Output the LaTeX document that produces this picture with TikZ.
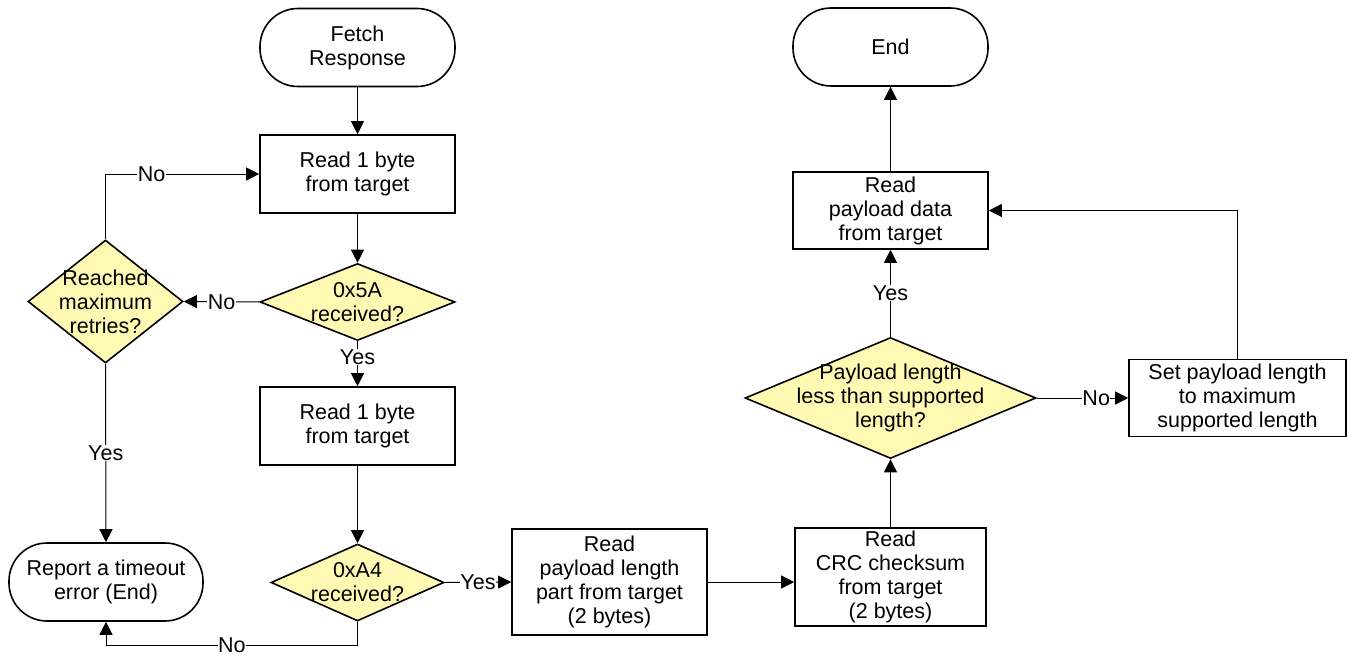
\documentclass[tikz,border=0pt]{standalone}
\usepackage{fontspec}
\setmainfont{Liberation Sans}
\usetikzlibrary{shapes.geometric,arrows.meta}
\definecolor{decfill}{RGB}{255,249,180}
\begin{document}
\begin{tikzpicture}[x=1pt,y=-1pt,
 every node/.style={font=\fontsize{21.5}{24}\selectfont, align=center},
 term/.style={draw, line width=1.6pt, rounded corners=38pt, minimum width=195pt, minimum height=78pt, inner sep=0pt},
 proc/.style={draw, line width=1.6pt, minimum width=195pt, minimum height=78pt, inner sep=0pt},
 dec/.style={draw, diamond, fill=decfill, line width=1.6pt, inner sep=0pt},
 txt/.style={inner sep=0pt},
 lbl/.style={fill=white, inner sep=0.5pt},
 conn/.style={line width=1pt, -{Triangle[length=13pt,width=13pt]}},
 wire/.style={line width=1pt}]
\useasboundingbox (0,0) rectangle (1348,658);

\node[term] (fetch) at (357.5,47.5) {Fetch\\Response};
\node[proc] (rd1) at (357.5,174) {Read 1 byte\\from target};
\node[dec, minimum width=195pt, minimum height=77pt] (d5A) at (357.5,302) {};
\node[txt] (d5At) at (d5A) {0x5A\\received?};
\node[dec, minimum width=155pt, minimum height=123pt] (rmax) at (105.5,301.5) {};
\node[txt] (rmaxt) at (rmax) {Reached\\maximum\\retries?};
\node[proc] (rd2) at (357.5,426) {Read 1 byte\\from target};
\node[dec, minimum width=173pt, minimum height=77pt] (dA4) at (357.5,582.5) {};
\node[txt] (dA4t) at (dA4) {0xA4\\received?};
\node[term, minimum width=194pt] (rep) at (106,582) {Report a timeout\\error (End)};
\node[proc, minimum height=106pt] (plen) at (609.5,582) {Read\\payload length\\part from target\\(2 bytes)};
\node[proc, minimum width=191pt, minimum height=98pt] (crc) at (890.5,577) {Read\\CRC checksum\\from target\\(2 bytes)};
\node[dec, minimum width=291pt, minimum height=121pt] (dlen) at (890.5,398) {};
\node[txt] (dlent) at (dlen) {Payload length\\less than supported\\length?};
\node[proc, minimum width=217pt, minimum height=77pt] (setmax) at (1237.5,398) {Set payload length\\to maximum\\supported length};
\node[proc, minimum height=77pt] (rdata) at (890.5,210.5) {Read\\payload data\\from target};
\node[term] (endt) at (890.5,47) {End};

\coordinate (nb) at (357.5,645);
\coordinate (na) at (106,645);

\draw[conn] (fetch.south) -- (rd1.north);
\draw[conn] (rd1.south) -- (d5A.north);
\draw[conn] (d5A.west) -- node[lbl]{No} (rmax.east);
\draw[conn] (rmax.north) |- node[lbl, pos=0.65]{No} (rd1.west);
\draw[conn] (d5A.south) -- node[lbl, pos=0.35]{Yes} (rd2.north);
\draw[conn] (rmax.south) -- node[lbl]{Yes} (rep.north);
\draw[conn] (rd2.south) -- (dA4.north);
\draw[conn] (dA4.east) -- node[lbl]{Yes} (plen.west);
\draw[conn] (dA4.south) -- (nb) -- node[lbl]{No} (na) -- (rep.south);
\draw[conn] (plen.east) -- (plen.east -| crc.west);
\draw[conn] (crc.north) -- (dlen.south);
\draw[conn] (dlen.north) -- node[lbl]{Yes} (rdata.south);
\draw[conn] (dlen.east) -- node[lbl, pos=0.65]{No} (setmax.west);
\draw[conn] (setmax.north) |- (rdata.east);
\draw[conn] (rdata.north) -- (endt.south);
\end{tikzpicture}
\end{document}
